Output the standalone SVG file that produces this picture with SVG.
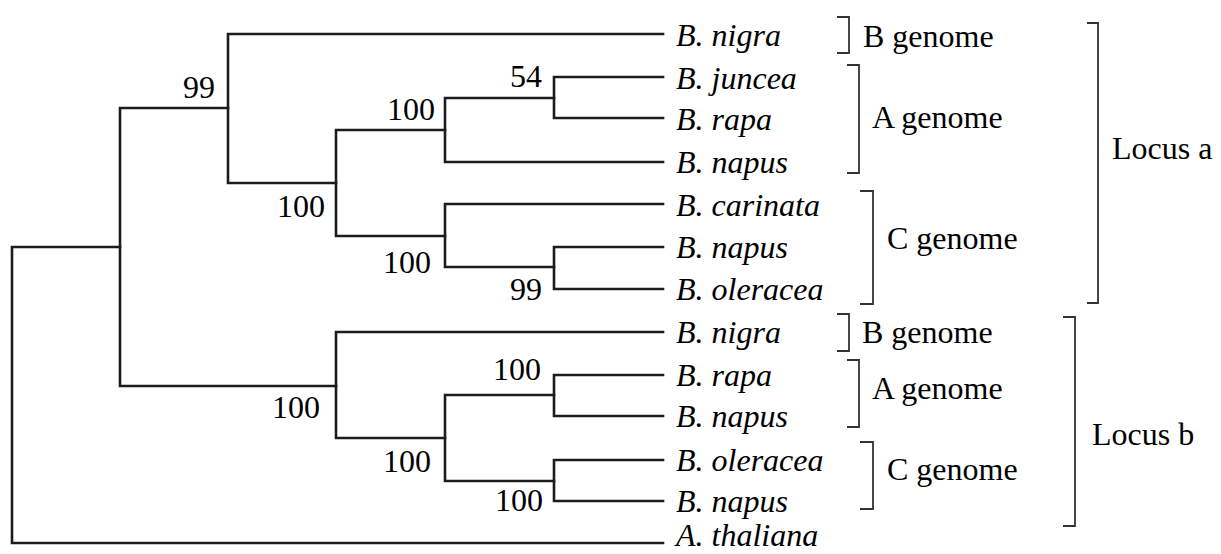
<svg xmlns="http://www.w3.org/2000/svg" width="1221" height="554" viewBox="0 0 1221 554">
<style>
.br{fill:none;stroke:#1c1c1c;stroke-width:2.6;stroke-linecap:square}
.bk{fill:none;stroke:#333;stroke-width:1.8}
text{font-family:"Liberation Serif","Times New Roman",serif;font-size:32px;fill:#000}
.sp{font-style:italic}
</style>
<rect width="1221" height="554" fill="#fff"/>
<g id="connectors">
<path class="br" d="M12,247V543M12,247H120M12,543H663"/>
<path class="br" d="M120,108V386M120,108H228M120,386H336"/>
<path class="br" d="M228,34V183M228,34H663M228,183H336"/>
<path class="br" d="M336,130V236M336,130H445M336,236H445"/>
<path class="br" d="M445,98V162M445,98H554M445,162H663"/>
<path class="br" d="M554,77V118M554,77H663M554,118H663"/>
<path class="br" d="M445,204V267M445,204H663M445,267H554"/>
<path class="br" d="M554,247V289M554,247H663M554,289H663"/>
<path class="br" d="M336,332V438M336,332H663M336,438H445"/>
<path class="br" d="M445,395V481M445,395H554M445,481H554"/>
<path class="br" d="M554,375V416M554,375H663M554,416H663"/>
<path class="br" d="M554,460V501M554,460H663M554,501H663"/>
</g>
<g id="support">
<text x="183" y="98">99</text>
<text x="277" y="217">100</text>
<text x="387" y="120">100</text>
<text x="383" y="273">100</text>
<text x="510" y="87">54</text>
<text x="510" y="300">99</text>
<text x="272" y="418">100</text>
<text x="383" y="472">100</text>
<text x="493" y="380">100</text>
<text x="495" y="511">100</text>
</g>
<g id="leaf-nigra-a"><text class="sp" x="676" y="46">B. nigra</text></g>
<g id="leaf-juncea-a"><text class="sp" x="676" y="89">B. juncea</text></g>
<g id="leaf-rapa-a"><text class="sp" x="676" y="130">B. rapa</text></g>
<g id="leaf-napus-a1"><text class="sp" x="676" y="173">B. napus</text></g>
<g id="leaf-carinata-a"><text class="sp" x="676" y="216">B. carinata</text></g>
<g id="leaf-napus-a2"><text class="sp" x="676" y="258">B. napus</text></g>
<g id="leaf-oleracea-a"><text class="sp" x="676" y="300">B. oleracea</text></g>
<g id="leaf-nigra-b"><text class="sp" x="676" y="343">B. nigra</text></g>
<g id="leaf-rapa-b"><text class="sp" x="676" y="386">B. rapa</text></g>
<g id="leaf-napus-b1"><text class="sp" x="676" y="427">B. napus</text></g>
<g id="leaf-oleracea-b"><text class="sp" x="676" y="471">B. oleracea</text></g>
<g id="leaf-napus-b2"><text class="sp" x="676" y="512">B. napus</text></g>
<g id="leaf-thaliana"><text class="sp" x="676" y="546">A. thaliana</text></g>
<g id="bracket-B-a"><path class="bk" d="M837,17H849V53H837"/><text x="863" y="47">B genome</text></g>
<g id="bracket-A-a"><path class="bk" d="M847,65H859V173H847"/><text x="872" y="128">A genome</text></g>
<g id="bracket-C-a"><path class="bk" d="M860,191H873V304H860"/><text x="887" y="249">C genome</text></g>
<g id="bracket-locus-a"><path class="bk" d="M1087,23H1098V303H1087"/><text x="1112" y="159">Locus a</text></g>
<g id="bracket-B-b"><path class="bk" d="M837,314H849V351H837"/><text x="862" y="343">B genome</text></g>
<g id="bracket-A-b"><path class="bk" d="M847,360H859V427H847"/><text x="872" y="399">A genome</text></g>
<g id="bracket-C-b"><path class="bk" d="M860,442H873V509H860"/><text x="887" y="480">C genome</text></g>
<g id="bracket-locus-b"><path class="bk" d="M1063,317H1075V526H1063"/><text x="1092" y="445">Locus b</text></g>
</svg>
